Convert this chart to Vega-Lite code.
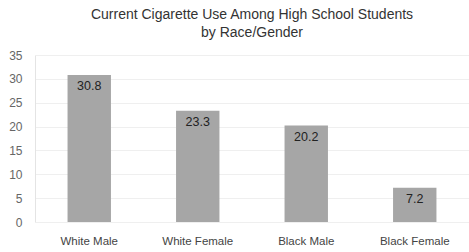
{
  "$schema": "https://vega.github.io/schema/vega-lite/v6.json",
  "width": 469,
  "height": 252,
  "autosize": {"type": "fit", "contains": "padding"},
  "padding": {"left": 8, "right": 0, "top": 8, "bottom": 5},
  "background": "white",
  "title": {
    "text": ["Current Cigarette Use Among High School Students", "by Race/Gender"],
    "font": "Liberation Sans",
    "fontSize": 14,
    "fontWeight": "normal",
    "color": "#333333",
    "lineHeight": 18,
    "offset": 9
  },
  "data": {
    "values": [
      {"group": "White Male", "pct": 30.8},
      {"group": "White Female", "pct": 23.3},
      {"group": "Black Male", "pct": 20.2},
      {"group": "Black Female", "pct": 7.2}
    ]
  },
  "config": {
    "view": {"stroke": null},
    "font": "Liberation Sans"
  },
  "encoding": {
    "x": {
      "field": "group",
      "type": "nominal",
      "sort": null,
      "scale": {"paddingInner": 0.6, "paddingOuter": 0.3},
      "axis": {
        "title": null,
        "labelAngle": 0,
        "labelFontSize": 11.5,
        "labelColor": "#444444",
        "labelPadding": 13,
        "domain": false,
        "ticks": false,
        "grid": false
      }
    },
    "y": {
      "field": "pct",
      "type": "quantitative",
      "scale": {"domain": [0, 35]},
      "axis": {
        "title": null,
        "values": [0, 5, 10, 15, 20, 25, 30, 35],
        "labelFontSize": 12,
        "labelColor": "#666666",
        "labelPadding": 13,
        "domain": true,
        "domainColor": "#e4e4e4",
        "ticks": false,
        "gridColor": "#efefef"
      }
    }
  },
  "layer": [
    {"mark": {"type": "bar", "color": "#a6a6a6"}},
    {
      "mark": {"type": "text", "baseline": "top", "dy": 5, "fontSize": 12.5, "color": "#222222"},
      "encoding": {"text": {"field": "pct", "type": "quantitative", "format": ".1f"}}
    }
  ]
}
